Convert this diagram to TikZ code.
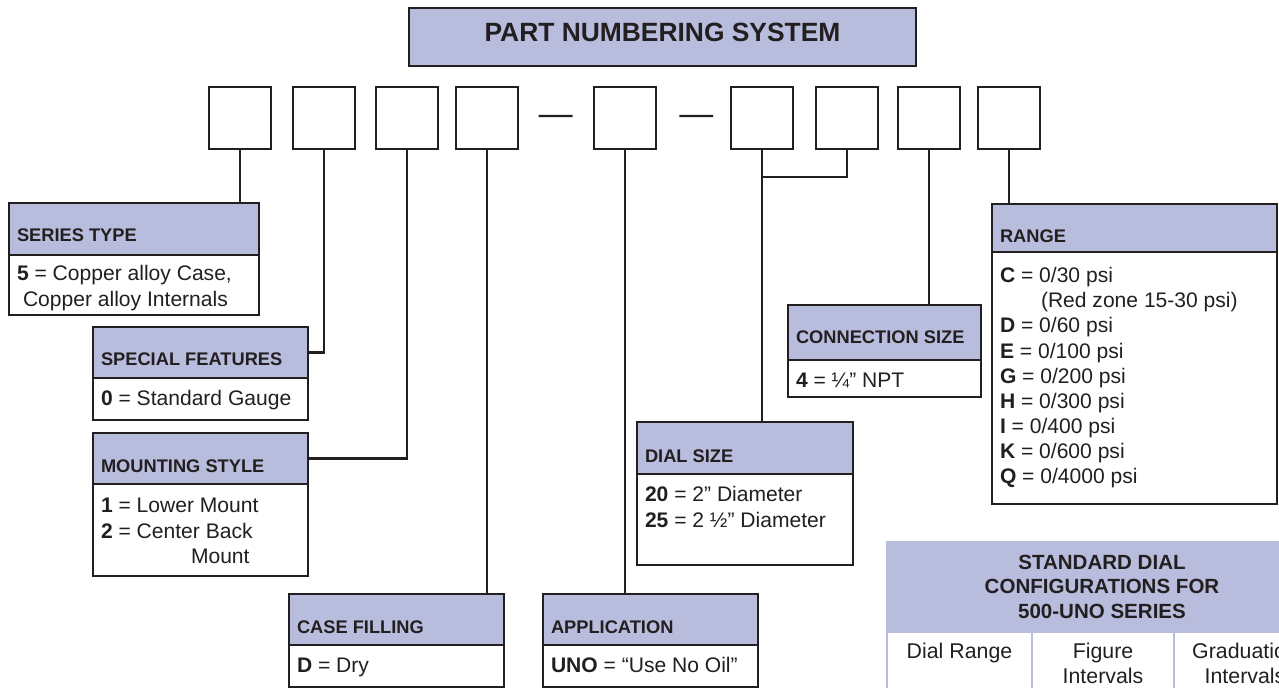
\documentclass[tikz,border=0pt]{standalone}
\usepackage{fontspec}
\setmainfont{Liberation Sans}
\usetikzlibrary{calc}
\definecolor{lav}{RGB}{185,189,221}
\definecolor{ink}{RGB}{35,31,32}
\begin{document}
\begin{tikzpicture}[x=0.75pt,y=-0.75pt,
  every node/.style={text=ink,outer sep=0pt},
  dig/.style={draw=ink,line width=1.9pt,minimum width=46.5pt,minimum height=46.5pt,inner sep=0,anchor=north west},
  hd/.style={draw=ink,fill=lav,line width=1.9pt,inner sep=0,anchor=north west},
  bd/.style={draw=ink,fill=white,line width=1.9pt,inner sep=0,anchor=north west},
  ht/.style={anchor=base west,inner sep=0,font=\fontsize{13.7pt}{16pt}\selectfont\bfseries},
  bt/.style={anchor=base west,inner sep=0,font=\fontsize{15.8pt}{18pt}\selectfont},
  tt/.style={anchor=base,inner sep=0,font=\fontsize{15.4pt}{18pt}\selectfont\bfseries},
  tb/.style={anchor=base,inner sep=0,font=\fontsize{16pt}{18pt}\selectfont},
  tc/.style={draw=lav,line width=1.5pt,inner sep=0,anchor=north west,minimum height=60pt},
  con/.style={draw=ink,line width=1.6pt},
  dsh/.style={draw=ink,line width=1.6pt}
]
\useasboundingbox (0,0) rectangle (1279,688);
\clip (0,0) rectangle (1279,688);

% title
\node[hd,minimum width=380.25pt,minimum height=43.5pt] (title) at (409,8) {};
\node[anchor=base,inner sep=0,font=\fontsize{19.8pt}{22pt}\selectfont\bfseries] (titleT) at (662.5,42) {PART NUMBERING SYSTEM};

% digit boxes
\node[dig] (b1) at (209,87) {};
\node[dig] (b2) at (293,87) {};
\node[dig] (b3) at (376,87) {};
\node[dig] (b4) at (456,87) {};
\node[dig] (b5) at (594,87) {};
\node[dig] (b6) at (731,87) {};
\node[dig] (b7) at (816,87) {};
\node[dig] (b8) at (898,87) {};
\node[dig] (b9) at (978,87) {};
\draw[dsh] ($(b4.east)!0.27!(b5.west)+(0,-2)$) -- ($(b4.east)!0.72!(b5.west)+(0,-2)$);
\draw[dsh] ($(b5.east)!0.31!(b6.west)+(0,-2)$) -- ($(b5.east)!0.76!(b6.west)+(0,-2)$);

% SERIES TYPE
\node[hd,minimum width=187.5pt,minimum height=39pt] (stH) at (9,203) {};
\node[bd,minimum width=187.5pt,minimum height=45pt] (stB) at (stH.south west) {};
\node[ht] (stT) at (17,242) {SERIES TYPE};
\node[bt] (st1) at (17,281) {\textbf{5} = Copper alloy Case,};
\node[bt] (st2) at (23,306) {Copper alloy Internals};

% SPECIAL FEATURES
\node[hd,minimum width=161.25pt,minimum height=38.25pt] (sfH) at (93,327) {};
\node[bd,minimum width=161.25pt,minimum height=31.5pt] (sfB) at (sfH.south west) {};
\node[ht] (sfT) at (101,365) {SPECIAL FEATURES};
\node[bt] (sf1) at (101,405) {\textbf{0} = Standard Gauge};

% MOUNTING STYLE
\node[hd,minimum width=161.25pt,minimum height=38.25pt] (msH) at (93,433) {};
\node[bd,minimum width=161.25pt,minimum height=69pt] (msB) at (msH.south west) {};
\node[ht] (msT) at (101,472) {MOUNTING STYLE};
\node[bt] (ms1) at (101,512) {\textbf{1} = Lower Mount};
\node[bt] (ms2) at (101,538) {\textbf{2} = Center Back};
\node[bt] (ms3) at (191,563) {Mount};

% CASE FILLING
\node[hd,minimum width=161.25pt,minimum height=38.25pt] (cfH) at (289,594) {};
\node[bd,minimum width=161.25pt,minimum height=31.5pt] (cfB) at (cfH.south west) {};
\node[ht] (cfT) at (297,633) {CASE FILLING};
\node[bt] (cf1) at (297,672) {\textbf{D} = Dry};

% APPLICATION
\node[hd,minimum width=161.25pt,minimum height=38.25pt] (apH) at (543,594) {};
\node[bd,minimum width=161.25pt,minimum height=31.5pt] (apB) at (apH.south west) {};
\node[ht] (apT) at (551,633) {APPLICATION};
\node[bt] (ap1) at (551,672) {\textbf{UNO} = “Use No Oil”};

% DIAL SIZE
\node[hd,minimum width=162pt,minimum height=39pt] (dsH) at (637,422) {};
\node[bd,minimum width=162pt,minimum height=68.25pt] (dsB) at (dsH.south west) {};
\node[ht] (dsT) at (645,462) {DIAL SIZE};
\node[bt] (ds1) at (645,501) {\textbf{20} = 2” Diameter};
\node[bt] (ds2) at (645,527) {\textbf{25} = 2 ½” Diameter};

% CONNECTION SIZE
\node[hd,minimum width=144.75pt,minimum height=41.25pt] (csH) at (788,305) {};
\node[bd,minimum width=144.75pt,minimum height=27.75pt] (csB) at (csH.south west) {};
\node[ht] (csT) at (796,344) {CONNECTION SIZE};
\node[bt] (cs1) at (796,387) {\textbf{4} = ¼” NPT};

% RANGE
\node[hd,minimum width=213.75pt,minimum height=36pt] (rgH) at (992,204) {};
\node[bd,minimum width=213.75pt,minimum height=189pt] (rgB) at (rgH.south west) {};
\node[ht] (rgT) at (1000,243) {RANGE};
\node[bt] (rg1) at (1000,282) {\textbf{C} = 0/30 psi};
\node[bt] (rg2) at (1041,307) {(Red zone 15-30 psi)};
\node[bt] (rg3) at (1000,332.5) {\textbf{D} = 0/60 psi};
\node[bt] (rg4) at (1000,358) {\textbf{E} = 0/100 psi};
\node[bt] (rg5) at (1000,383) {\textbf{G} = 0/200 psi};
\node[bt] (rg6) at (1000,408) {\textbf{H} = 0/300 psi};
\node[bt] (rg7) at (1000,433.5) {\textbf{I} = 0/400 psi};
\node[bt] (rg8) at (1000,458.5) {\textbf{K} = 0/600 psi};
\node[bt] (rg9) at (1000,483.5) {\textbf{Q} = 0/4000 psi};

% connectors
\draw[con] (b1.south) -- (b1.south |- stH.north);
\draw[con] (b2.south) |- (sfH.east);
\draw[con] (b3.south) |- (msH.east);
\draw[con] (b4.south) -- (b4.south |- cfH.north);
\draw[con] (b5.south) -- (b5.south |- apH.north);
\draw[con] (b6.south) -- (b6.south |- dsH.north);
\draw[con] (b7.south) -- ($(b7.south)+(0,28)$) -| (b6.south);
\draw[con] (b8.south) -- (b8.south |- csH.north);
\draw[con] (b9.south) -- (b9.south |- rgH.north);

% STANDARD DIAL table
\node[draw=lav,fill=lav,line width=1.5pt,inner sep=0,anchor=north west,minimum width=322pt,minimum height=67.5pt] (tbH) at (887,542) {};
\node[tc,minimum width=108.75pt] (c1) at (tbH.south west) {};
\node[tc,minimum width=106.5pt] (c2) at (c1.north east) {};
\node[tc,minimum width=106.5pt] (c3) at (c2.north east) {};
\node[tt] (tb1) at (1102,569) {STANDARD DIAL};
\node[tt] (tb2) at (1102,593) {CONFIGURATIONS FOR};
\node[tt] (tb3) at (1102,618) {500-UNO SERIES};
\node[tb] (c1a) at (c1.north |- 0,658) {Dial Range};
\node[tb] (c2a) at (c2.north |- 0,658) {Figure};
\node[tb] (c2b) at (c2.north |- 0,683) {Intervals};
\node[tb] (c3a) at (c3.north |- 0,658) {Graduation};
\node[tb] (c3b) at (c3.north |- 0,683) {Intervals};
\end{tikzpicture}
\end{document}
